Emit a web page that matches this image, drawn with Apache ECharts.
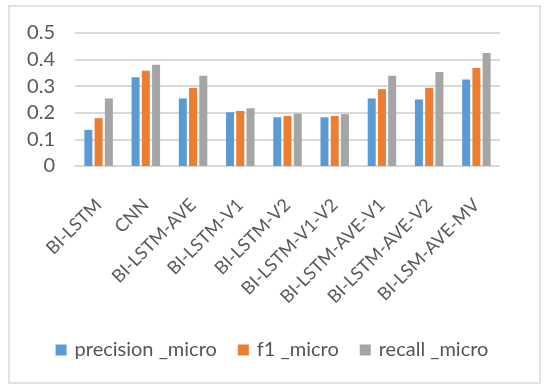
<!DOCTYPE html>
<html>
<head>
<meta charset="utf-8">
<script src="https://cdn.jsdelivr.net/npm/echarts@6/dist/echarts.min.js"></script>
<style>html,body{margin:0;padding:0;background:#fff;}#c{width:544px;height:385px;}</style>
</head>
<body>
<div id="c"></div>
<script>
const categories = ['BI-LSTM','CNN','BI-LSTM-AVE','BI-LSTM-V1','BI-LSTM-V2','BI-LSTM-V1-V2','BI-LSTM-AVE-V1','BI-LSTM-AVE-V2','BI-LSM-AVE-MV'];
const precisionMicro = [0.136,0.334,0.254,0.202,0.183,0.183,0.254,0.250,0.325];
const f1Micro        = [0.180,0.358,0.293,0.207,0.188,0.188,0.289,0.294,0.368];
const recallMicro    = [0.254,0.381,0.339,0.217,0.197,0.195,0.339,0.353,0.425];
const seriesNames = ['precision _micro','f1 _micro','recall _micro'];
const yTicks = [0,0.1,0.2,0.3,0.4,0.5];

const chart = echarts.init(document.getElementById('c'), null, {renderer:'canvas'});
const font = 'Lato, "Open Sans", sans-serif';
const txt = '#595959';
const mk = (name, data, color) => ({
  name, type:'bar', data, barWidth:8, barGap:'28%',
  itemStyle:{color}, animation:false
});
chart.setOption({
  animation:false,
  graphic:[{type:'rect', shape:{x:9,y:6,width:531,height:377}, style:{fill:'none', stroke:'#d9d9d9', lineWidth:1.5}, silent:true}],
  grid:{left:75, right:44, top:33, bottom:219, containLabel:false},
  legend:{
    data:seriesNames, bottom:20, left:'center',
    itemWidth:11, itemHeight:11, itemGap:21, icon:'rect',
    textStyle:{color:'#555', fontFamily:font, fontSize:20, padding:[0,0,0,3]}
  },
  xAxis:{
    type:'category', data:categories,
    axisLine:{lineStyle:{color:'#d9d9d9', width:1.5}},
    axisTick:{show:false},
    axisLabel:{rotate:45, interval:0, color:txt, fontFamily:font, fontSize:18, margin:36}
  },
  yAxis:{
    type:'value', min:0, max:0.5, interval:0.1,
    axisLine:{show:false}, axisTick:{show:false},
    splitLine:{lineStyle:{color:'#d9d9d9', width:1.8}},
    axisLabel:{color:txt, fontFamily:font, fontSize:20, margin:20,
      formatter:(v)=>{ const t = yTicks.find(x=>Math.abs(x-v)<1e-9); return String(t!==undefined?t:v); }}
  },
  series:[
    mk(seriesNames[0], precisionMicro, '#5B9BD5'),
    mk(seriesNames[1], f1Micro, '#ED7D31'),
    mk(seriesNames[2], recallMicro, '#A5A5A5')
  ]
});
</script>
</body>
</html>
